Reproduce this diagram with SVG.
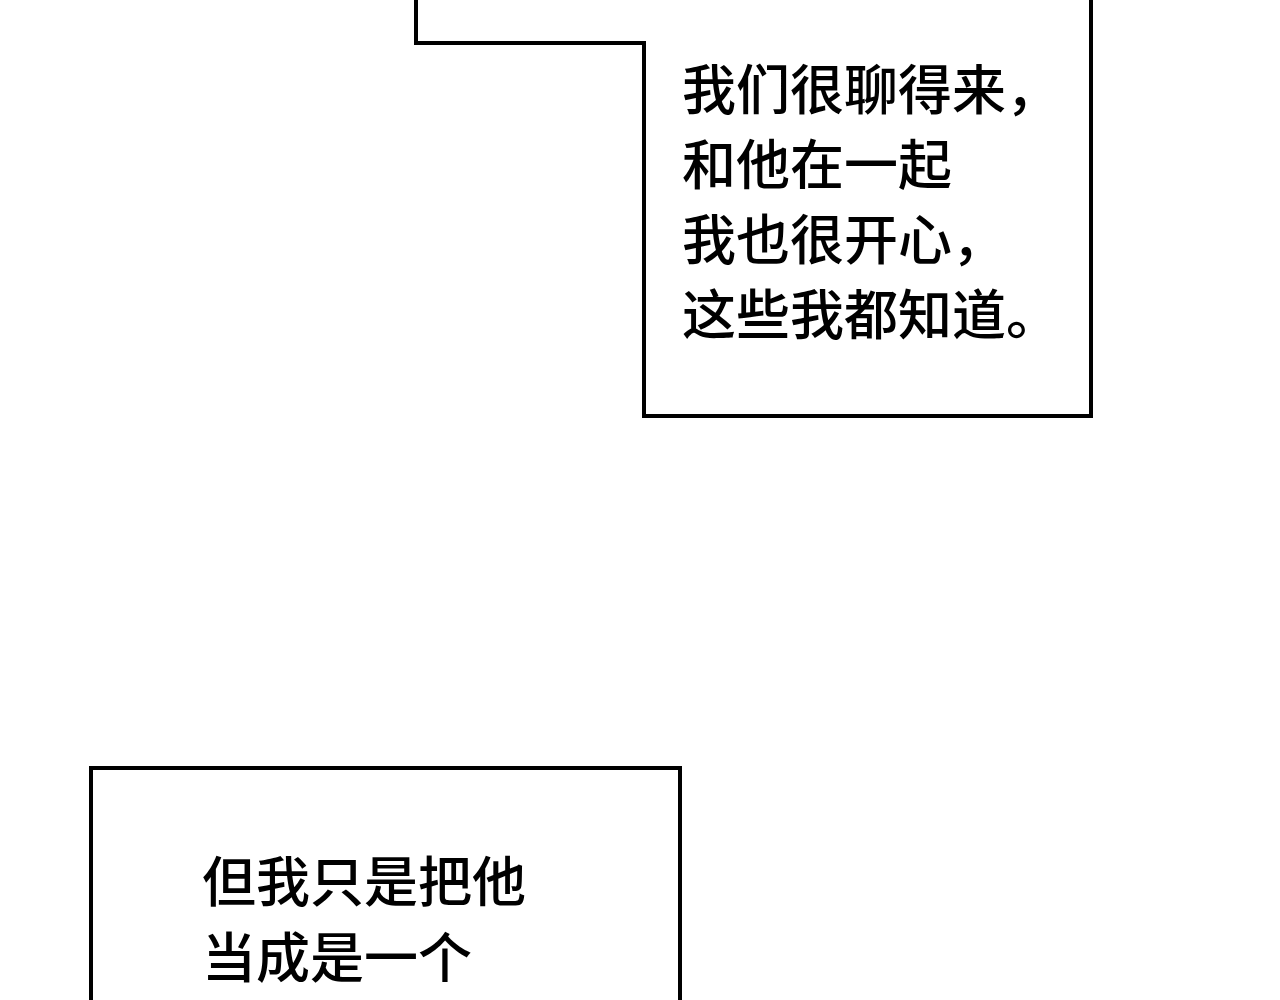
<svg xmlns="http://www.w3.org/2000/svg" width="1280" height="1000" viewBox="0 0 1280 1000">
<style>
.box{fill:none;stroke:#000;stroke-width:4}
.t{font-family:"Noto Sans CJK SC","Noto Sans",sans-serif;font-size:54px;font-weight:500;fill:#000}
</style>
<rect width="1280" height="1000" fill="#fff"/>
<g id="box1">
<polyline class="box" points="416,0 416,43 644,43 644,416 1091,416 1091,0"/>
<text class="t" x="682" y="110">我们很聊得来，</text>
<text class="t" x="682" y="185">和他在一起</text>
<text class="t" x="682" y="260">我也很开心，</text>
<text class="t" x="682" y="335">这些我都知道。</text>
</g>
<g id="box2">
<polyline class="box" points="91,1010 91,768 680,768 680,1010"/>
<text class="t" x="202" y="902">但我只是把他</text>
<text class="t" x="202" y="978">当成是一个</text>
</g>
<g id="connectors"/>
</svg>
